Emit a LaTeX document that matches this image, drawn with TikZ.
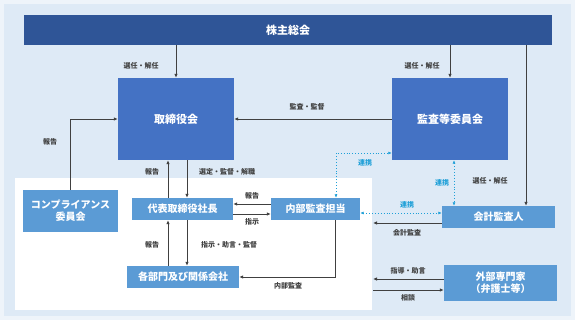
\documentclass[tikz,border=0pt]{standalone}
\usepackage{fontspec}
\setmainfont{Noto Sans CJK JP}
\usetikzlibrary{arrows.meta}
\definecolor{navy}{HTML}{2F5597}
\definecolor{midblue}{HTML}{4472C4}
\definecolor{lightblue}{HTML}{5B9BD5}
\definecolor{pale}{HTML}{DEEAF6}
\definecolor{paler}{HTML}{EEF4FA}
\definecolor{linkcyan}{HTML}{1FA0D8}
\definecolor{txtgray}{HTML}{404040}
\begin{document}
\begin{tikzpicture}[x=1pt,y=-1pt,
  box/.style={fill=lightblue,text=white,align=center,inner sep=0pt,font=\fontsize{10}{12}\selectfont\bfseries},
  bigbox/.style={box,fill=midblue,font=\fontsize{11}{13}\selectfont\bfseries},
  arr/.style={-{Latex[length=4pt,width=3.5pt]},draw=txtgray,line width=0.9pt},
  link/.style={{Latex[length=3.5pt,width=3pt]}-{Latex[length=3.5pt,width=3pt]},draw=linkcyan,line width=0.9pt,dotted},
  lbl/.style={text=txtgray,inner sep=1pt,font=\fontsize{7}{8}\selectfont\bfseries},
  lbllink/.style={lbl,text=linkcyan}]
  \useasboundingbox (0,0) rectangle (575,320);
  \fill[paler] (0,0) rectangle (575,320);
  \fill[pale] (4,4) rectangle (571,316);
  \fill[white] (15,178) rectangle (372,310);
  % boxes
  \node[bigbox,fill=navy,minimum width=528pt,minimum height=30pt] (top) at (288,30) {株主総会};
  \node[bigbox,minimum width=116pt,minimum height=82pt] (board) at (176,119) {取締役会};
  \node[bigbox,minimum width=116pt,minimum height=82pt] (audit) at (450,119) {監査等委員会};
  \node[box,minimum width=95pt,minimum height=42pt] (comp) at (70.5,211) {コンプライアンス\\委員会};
  \node[box,minimum width=101pt,minimum height=22pt] (ceo) at (182.5,209) {代表取締役社長};
  \node[box,minimum width=89pt,minimum height=22pt] (internal) at (315.5,209) {内部監査担当};
  \node[box,minimum width=112pt,minimum height=22pt] (depts) at (183,277) {各部門及び関係会社};
  \node[box,minimum width=113pt,minimum height=22pt] (auditor) at (498.5,217) {会計監査人};
  \node[box,minimum width=113pt,minimum height=36pt] (experts) at (500.5,283) {外部専門家\\（弁護士等）};
  % free ends on the edge of the white area
  \coordinate (edgeA) at (373,223);
  \coordinate (edgeB) at (373,279);
  \coordinate (edgeC) at (373,290);
  % connectors
  \draw[arr] (top.south -| board.north) -- (board.north);
  \node[lbl] (l1) at (141,66) {選任・解任};
  \draw[arr] (top.south -| audit.north) -- (audit.north);
  \node[lbl] (l2) at (422,66) {選任・解任};
  \draw[arr] (top.south -| 526,0) -- (526,0 |- auditor.north);
  \node[lbl] (l3) at (490,181) {選任・解任};
  \draw[arr] (audit.west) -- (board.east);
  \node[lbl] (l4) at (307,107) {監査・監督};
  \draw[arr] (comp.north) |- (board.west);
  \node[lbl] (l5) at (50,142) {報告};
  \draw[arr] (168,0 |- ceo.north) -- (168,0 |- board.south);
  \node[lbl] (l6) at (152,172) {報告};
  \draw[arr] (187,0 |- board.south) -- (187,0 |- ceo.north);
  \node[lbl] (l7) at (227,172) {選定・監督・解職};
  \draw[arr] (internal.west |- 0,204) -- (ceo.east |- 0,204);
  \node[lbl] (l8) at (252,196) {報告};
  \draw[arr] (ceo.east |- 0,214) -- (internal.west |- 0,214);
  \node[lbl] (l9) at (252,222) {指示};
  \draw[arr] (168,0 |- depts.north) -- (168,0 |- ceo.south);
  \node[lbl] (l10) at (152,245) {報告};
  \draw[arr] (187,0 |- ceo.south) -- (187,0 |- depts.north);
  \node[lbl] (l11) at (229,245) {指示・助言・監督};
  \draw[arr] (335,0 |- internal.south) |- (depts.east);
  \node[lbl] (l12) at (288,286) {内部監査};
  \draw[arr] (auditor.west |- edgeA) -- (edgeA);
  \node[lbl] (l13) at (407,233) {会計監査};
  \draw[arr] (experts.west |- edgeB) -- (edgeB);
  \node[lbl] (l14) at (408,271) {指導・助言};
  \draw[arr] (edgeC) -- (experts.west |- edgeC);
  \node[lbl] (l15) at (408,298) {相談};
  % cooperation links
  \draw[link] (336,0 |- internal.north) |- (audit.west |- 0,153);
  \node[lbllink] (c1) at (365,163) {連携};
  \draw[link] (454,0 |- audit.south) -- (454,0 |- auditor.north);
  \node[lbllink] (c2) at (442,183) {連携};
  \draw[link] (internal.east |- 0,213) -- (auditor.west |- 0,213);
  \node[lbllink] (c3) at (407,205) {連携};
\end{tikzpicture}
\end{document}
